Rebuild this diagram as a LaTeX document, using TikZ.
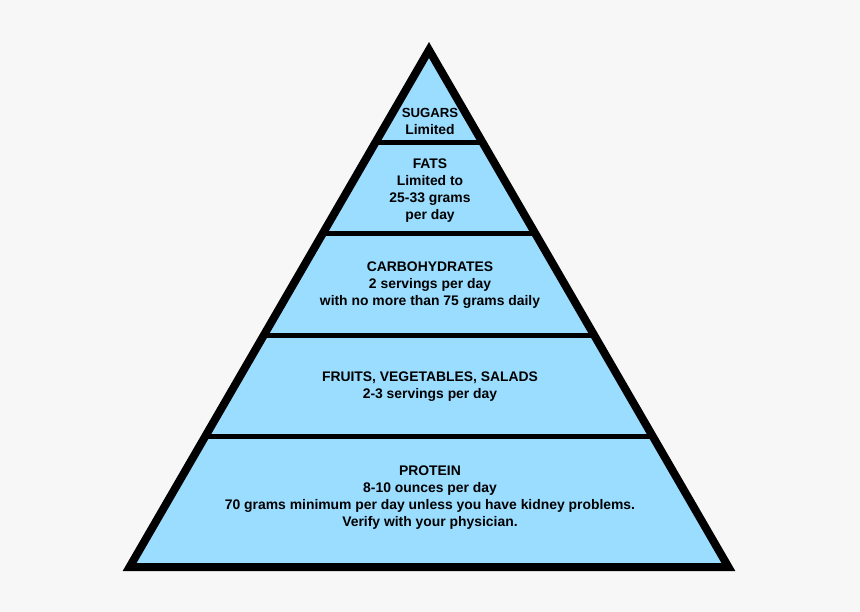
\documentclass[tikz,border=0pt]{standalone}
\usepackage{fontspec}
\setmainfont{Liberation Sans}
\usepackage{xcolor}
\definecolor{pyr-blue}{HTML}{9BDDFF}
\definecolor{page-grey}{HTML}{F7F7F7}

\begin{document}
\begin{tikzpicture}[x=1pt, y=-1pt,
      every node/.style={font=\fontsize{13.9}{17}\selectfont\bfseries, align=center, inner sep=0pt}]
    % page
    \fill[page-grey] (0,0) rectangle (860,612);
    \useasboundingbox (0,0) rectangle (860,612);
    % corners of the pyramid
    \coordinate (top) at (429,50);
    \coordinate (bl) at (129.6,567);
    \coordinate (br) at (728.4,567);
    \fill[pyr-blue] (top) -- (bl) -- (br) -- cycle;
    % layers
    \begin{scope}
      \clip (top) -- (bl) -- (br) -- cycle;
      \foreach \yy in {143,234,335.5,436.5}
        \draw[line width=5pt] (100,\yy) -- (760,\yy);
    \end{scope}
    \draw[line width=8pt, line join=miter] (top) -- (bl) -- (br) -- cycle;
    % texts
    \node (sugars) at (430,121.5) {\fontsize{13.2}{15}\selectfont SUGARS\\Limited};
    \node (fats) at (430,191) {FATS\\Limited to\\25-33 grams\\per day};
    \node (carbs) at (430,285) {CARBOHYDRATES\\2 servings per day\\with no more than 75 grams daily};
    \node (fruits) at (430,386.5) {FRUITS, VEGETABLES, SALADS\\2-3 servings per day};
    \node (protein) at (430,498) {PROTEIN\\8-10 ounces per day\\70 grams minimum per day unless you have kidney problems.\\Verify with your physician.};
\end{tikzpicture}
\end{document}
